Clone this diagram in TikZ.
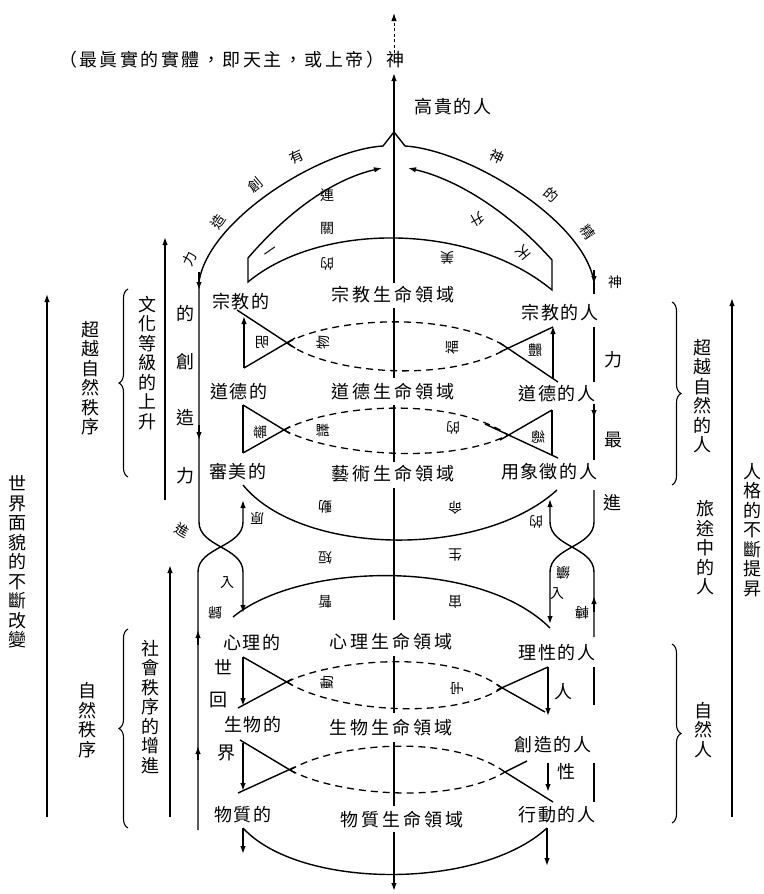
\documentclass[tikz,border=0pt]{standalone}
\usepackage{fontspec}
\newfontfamily\cjk{Noto Sans CJK TC}
\usetikzlibrary{arrows.meta,decorations.pathreplacing}
\makeatletter
\newcommand\spreadtext[2]{\def\sp@gap{\hspace{#1}}\let\sp@pre\relax\@tfor\sp@tok:=#2\do{\sp@pre\sp@tok\let\sp@pre\sp@gap}}
\makeatother
\begin{document}
\begin{tikzpicture}[x=1pt,y=-1pt,
  ln/.style={line width=1.4pt},
  dsh/.style={line width=1.3pt,dash pattern=on 7pt off 5pt},
  arr/.style={-{Latex[length=8pt,width=5.5pt]}},
  lbl/.style={font=\cjk\fontsize{18}{20}\selectfont,inner sep=0pt},
  sm/.style={font=\cjk\fontsize{14}{15}\selectfont,inner sep=0pt},
  vt/.style={font=\cjk\fontsize{18}{19.5}\selectfont,align=center,inner sep=0pt},
  brc/.style={line width=1.1pt,decorate,decoration={brace,amplitude=9pt}}
]
\useasboundingbox (0,0) rectangle (763,894);
\fill[white] (0,0) rectangle (763,894);

% ---------- top ----------
\node[lbl] (title) at (232,60) {\spreadtext{2.5pt}{（最眞實的實體，即天主，或上帝）神}};
\node[lbl] (noble) at (453,107) {\spreadtext{1.5pt}{高貴的人}};
\coordinate (peak) at (394,132);
\coordinate (topend) at (394,13);
\draw[line width=1pt,dash pattern=on 3pt off 2.5pt,arr] (394,53)--(topend);
\draw[ln,arr] (peak)--(394,73);

% ---------- center line ----------
\draw[ln] (peak)--(394,283);
\draw[ln] (394,308)--(394,378);
\draw[ln] (394,405)--(394,462);
\draw[ln] (394,488)--(394,620);
\draw[ln] (394,656)--(394,713);
\draw[ln] (394,742)--(394,806);
\draw[ln,arr] (394,832)--(394,891);

% ---------- outer arcs ----------
\draw[ln] (peak)--(383,146) .. controls (320,150) and (208,220) .. (199,282);
\draw[ln] (peak)--(405,146) .. controls (468,150) and (584,220) .. (594,282);
\draw[ln,arr] (199,272)--(199,290);
\draw[ln,arr] (594,270)--(594,284);
\draw[ln] (594,282)--(594,294);
\node[sm,rotate=25] (o1) at (297,157) {有};
\node[sm,rotate=40] (o2) at (255,185) {創};
\node[sm,rotate=55] (o3) at (218,222) {造};
\node[sm,rotate=65] (o4) at (190,259) {力};
\node[sm,rotate=-25] (o5) at (497,157) {神};
\node[sm,rotate=-40] (o6) at (551,195) {的};
\node[sm,rotate=-55] (o7) at (588,232) {精};
\node[sm] (o8) at (615,282) {神};

% ---------- inner arcs ----------
\draw[ln,arr] (248,258) .. controls (285,215) and (330,180) .. (382,168);
\draw[ln,arr] (552,260) .. controls (512,215) and (460,180) .. (408,168);
\draw[ln] (248,258)--(248,282) .. controls (320,222) and (470,222) .. (552,290)--(552,260);
\node[sm] (i1) at (327,195) {連};
\node[sm] (i2) at (327,228) {關};
\node[sm,rotate=35] (i3) at (272,253) {一};
\node[sm,rotate=180] (i4) at (327,264) {的};
\node[sm,rotate=-150] (i5) at (477,220) {升};
\node[sm,rotate=180] (i6) at (447,258) {美};
\node[sm,rotate=-140] (i7) at (523,253) {天};

% ---------- left column labels ----------
\node[lbl] (l1) at (241,302) {\spreadtext{1.5pt}{宗教的}};
\node[lbl] (l2) at (239,392) {\spreadtext{1.5pt}{道德的}};
\node[lbl] (l3) at (238,472) {\spreadtext{1.5pt}{審美的}};
\node[lbl] (l4) at (252,642) {\spreadtext{1.5pt}{心理的}};
\node[lbl] (l5) at (253,725) {\spreadtext{1.5pt}{生物的}};
\node[lbl] (l6) at (243,815) {\spreadtext{1.5pt}{物質的}};
% center labels
\node[lbl] (c1) at (393,295) {\spreadtext{3pt}{宗教生命領域}};
\node[lbl] (c2) at (393,392) {\spreadtext{3pt}{道德生命領域}};
\node[lbl] (c3) at (393,474) {\spreadtext{3pt}{藝術生命領域}};
\node[lbl] (c4) at (391,642) {\spreadtext{3pt}{心理生命領域}};
\node[lbl] (c5) at (391,728) {\spreadtext{3pt}{生物生命領域}};
\node[lbl] (c6) at (402,820) {\spreadtext{3pt}{物質生命領域}};
% right labels
\node[lbl] (r1) at (560,313) {\spreadtext{1.5pt}{宗教的人}};
\node[lbl] (r2) at (557,394) {\spreadtext{1.5pt}{道德的人}};
\node[lbl] (r3) at (549,472) {\spreadtext{1.5pt}{用象徵的人}};
\node[lbl] (r4) at (557,653) {\spreadtext{1.5pt}{理性的人}};
\node[lbl] (r5) at (553,745) {\spreadtext{1.5pt}{創造的人}};
\node[lbl] (r6) at (557,815) {\spreadtext{1.5pt}{行動的人}};

% ---------- left vertical (creative force) ----------
\draw[ln,arr] (199,282)--(199,522) .. controls (199,547) and (243,547) .. (243,572)--(243,613);
\draw[ln,arr] (199,425)--(199,440);
\draw[ln,arr] (198,830)--(198,572) .. controls (198,547) and (243,547) .. (243,522)--(243,500);
\draw[ln,arr] (198,645)--(198,630);
\draw[ln,arr] (198,760)--(198,746);
\node[lbl] (f1) at (185,313) {的};
\node[lbl] (f2) at (185,362) {創};
\node[lbl] (f3) at (185,418) {造};
\node[lbl] (f4) at (185,476) {力};
\node[sm,rotate=-30] (f5) at (182,530) {進};
\node[sm] (f6) at (227,583) {入};
\node[sm,rotate=180] (f7) at (215,613) {歸};

% ---------- right vertical ----------
\draw[ln] (594,327)--(594,382);
\draw[ln] (594,408)--(594,460);
\draw[ln,arr] (594,404)--(594,418);
\draw[ln,arr] (594,490)--(594,522) .. controls (594,547) and (550,547) .. (550,572)--(550,624);
\draw[ln,arr] (594,637)--(594,572) .. controls (594,547) and (550,547) .. (550,522)--(550,499);
\draw[ln,arr] (594,612)--(594,596);
\draw[ln] (594,667)--(594,705);
\draw[ln] (594,763)--(594,802);
\node[lbl] (g1) at (613,360) {力};
\node[lbl] (g2) at (613,440) {最};
\node[lbl] (g3) at (612,503) {進};
\node[sm,rotate=180] (g4) at (536,522) {的};
\node[sm,rotate=180] (g5) at (563,573) {續};
\node[sm] (g6) at (557,594) {入};
\node[sm,rotate=180] (g7) at (582,613) {轉};

% ---------- band 1 ----------
\draw[ln] (237,310)--(295,348);
\draw[ln] (244,368)--(295,338);
\draw[ln,arr] (244,368)--(244,316);
\draw[dsh] (287,343) .. controls (330,318) and (450,310) .. (508,348);
\draw[dsh] (287,343) .. controls (330,375) and (450,383) .. (508,348);
\draw[ln] (500,352)--(553,327);
\draw[ln] (500,343)--(558,382);
\draw[ln,arr] (553,378)--(553,326);
\node[sm,xscale=-1] (b1) at (262,343) {明};
\node[sm,rotate=90] (b2) at (323,342) {物};
\node[sm,rotate=90] (b3) at (452,347) {福};
\node[sm,xscale=-1] (b4) at (535,350) {體};

% ---------- band 2 ----------
\draw[ln] (243,405)--(290,433.5);
\draw[ln] (243,453)--(290,426.5);
\draw[ln] (243,405)--(243,453);
\draw[dsh] (284,430) .. controls (330,405) and (450,395) .. (508,435);
\draw[dsh] (284,430) .. controls (330,455) and (450,465) .. (508,435);
\draw[ln] (485,424)--(558,458);
\draw[ln] (500,440)--(552,410);
\draw[ln] (552,410)--(552,455);
\node[sm,xscale=-1] (d1) at (260,432) {聯};
\node[sm,rotate=90] (d2) at (323,430) {譯};
\node[sm,rotate=180] (d3) at (453,428) {的};
\node[sm,xscale=-1] (d4) at (538,437) {總};

% ---------- middle band ----------
\draw[ln] (243,485) .. controls (300,555) and (480,560) .. (557,490);
\draw[ln] (233,617) .. controls (300,562) and (480,558) .. (550,628);
\node[sm,rotate=180] (m1) at (257,518) {原};
\node[sm,rotate=180] (m2) at (325,507) {動};
\node[sm,rotate=180] (m3) at (455,508) {命};
\node[sm,rotate=180] (m4) at (325,558) {短};
\node[sm,rotate=180] (m5) at (455,555) {生};
\node[sm,rotate=180] (m6) at (325,602) {暫};
\node[sm,rotate=180] (m7) at (455,602) {宙};

% ---------- band 3 ----------
\draw[ln] (243,657)--(292,685);
\draw[ln] (238,708)--(292,679);
\draw[ln,arr] (243,657)--(243,706);
\draw[dsh] (287,682) .. controls (330,660) and (450,648) .. (502,688);
\draw[dsh] (287,682) .. controls (330,710) and (450,722) .. (502,688);
\draw[ln] (497,690)--(548,667);
\draw[ln] (497,685)--(545,712);
\draw[ln,arr] (548,667)--(548,716);
\node[lbl] (h1) at (223,667) {世};
\node[lbl] (h2) at (218,700) {回};
\node[lbl] (h3) at (563,692) {人};
\node[sm,rotate=90] (h4) at (327,682) {動};
\node[sm,rotate=90] (h5) at (457,688) {宇};

% ---------- band 4 ----------
\draw[ln] (240,740)--(295,773);
\draw[ln] (238,793)--(295,767);
\draw[ln,arr] (243,743)--(243,791);
\draw[dsh] (290,770) .. controls (335,743) and (450,733) .. (505,772);
\draw[dsh] (290,770) .. controls (335,795) and (450,805) .. (505,772);
\draw[ln] (505,772)--(527,761);
\draw[ln] (505,772)--(553,802);
\draw[ln,arr] (548,763)--(548,792);
\node[lbl] (k1) at (226,753) {界};
\node[lbl] (k2) at (566,772) {性};

% ---------- bottom ----------
\draw[ln,arr] (243,828)--(243,854);
\draw[ln,arr] (547,828)--(547,866);
\draw[ln] (243,828) .. controls (300,890) and (480,890) .. (547,828);

% ---------- left margin ----------
\node[vt] (w1) at (18,562) {世\\界\\面\\貌\\的\\不\\斷\\改\\變};
\draw[ln,arr] (47,817)--(47,294);
\node[vt] (w2) at (90,378) {超\\越\\自\\然\\秩\\序};
\draw[brc] (128,477)--(128,289);
\node[vt] (w3) at (147,363) {文\\化\\等\\級\\的\\上\\升};
\draw[ln,arr] (165,500)--(165,237);
\node[vt] (w4) at (150,707) {社\\會\\秩\\序\\的\\增\\進};
\draw[ln,arr] (170,817)--(170,565);
\draw[brc] (128,828)--(128,629);
\node[vt] (w5) at (87,720) {自\\然\\秩\\序};

% ---------- right margin ----------
\draw[brc] (672,302)--(672,485);
\node[vt] (e1) at (702,396) {超\\越\\自\\然\\的\\人};
\draw[ln,arr] (732,817)--(732,298);
\node[vt] (e2) at (752,530) {人\\格\\的\\不\\斷\\提\\昇};
\node[vt] (e3) at (705,548) {旅\\途\\中\\的\\人};
\draw[brc] (672,644)--(672,823);
\node[vt] (e4) at (703,730) {自\\然\\人};
\end{tikzpicture}
\end{document}
